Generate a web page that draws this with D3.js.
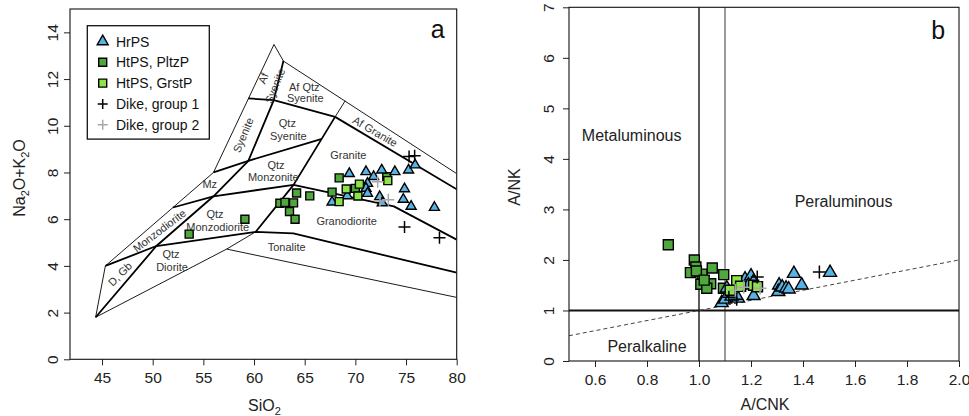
<!DOCTYPE html>
<html>
<head>
<meta charset="utf-8">
<script src="https://cdn.jsdelivr.net/npm/d3@7"></script>
<style>
  body { margin: 0; background: #fff; }
  svg { display: block; }
</style>
</head>
<body>
<svg id="chart" width="969" height="416"></svg>
<script>
// ---- series ----
const seriesNames = ["HrPS", "HtPS, PltzP", "HtPS, GrstP", "Dike, group 1", "Dike, group 2"];

// Panel a: SiO2 (wt%) vs Na2O+K2O (wt%)
const tasHrPS = [[69.4,7.95],[71.05,8.03],[72.6,8.1],[73.9,8.03],[71.8,7.82],[75.25,8.1],[75.9,8.32],[71.2,7.53],[71.05,7.32],[71.2,7.1],[69.2,7.0],[67.7,6.73],[72.4,6.96],[72.65,6.7],[74.85,7.3],[74.73,6.85],[75.5,6.55],[77.8,6.5]];
const tasPltzP = [[53.6,5.36],[59.1,6.0],[62.55,6.68],[63.05,6.72],[63.9,6.7],[63.5,6.33],[64.05,6.0],[64.2,7.12],[65.5,7.0],[67.7,7.16],[68.4,7.77],[70.0,7.32],[73.1,7.82]];
const tasGrstP = [[69.1,7.29],[70.4,7.5],[70.25,6.99],[68.4,6.75],[73.2,7.65]];
const tasDike1 = [[75.3,8.68],[75.85,8.72],[74.85,5.67],[78.3,5.2]];
const tasDike2 = [[72.2,7.6],[72.43,6.78],[73.25,6.83]];

// Panel b: A/CNK vs A/NK
const shandHrPS = [[1.107,1.44],[1.087,1.15],[1.10,1.22],[1.15,1.24],[1.177,1.62],[1.20,1.68],[1.21,1.29],[1.21,1.57],[1.308,1.50],[1.305,1.37],[1.32,1.46],[1.335,1.44],[1.345,1.42],[1.365,1.73],[1.395,1.50],[1.504,1.75],[1.19,1.50],[1.125,1.28]];
const shandPltzP = [[0.882,2.30],[0.982,2.0],[0.988,1.86],[0.967,1.75],[1.012,1.72],[1.051,1.84],[1.095,1.71],[1.007,1.52],[1.045,1.53],[1.03,1.44],[1.094,1.44],[0.99,1.78],[1.02,1.6]];
const shandGrstP = [[1.145,1.59],[1.21,1.50],[1.225,1.47],[1.16,1.48],[1.12,1.40]];
const shandDike1 = [[1.463,1.76],[1.224,1.66],[1.145,1.22],[1.115,1.26]];
const shandDike2 = [[1.14,1.40],[1.172,1.46],[1.235,1.44]];

// ---- ticks ----
const tasTicksX = [45, 50, 55, 60, 65, 70, 75, 80];
const tasTicksY = [0, 2, 4, 6, 8, 10, 12, 14];
const shandTicksX = [0.6, 0.8, 1.0, 1.2, 1.4, 1.6, 1.8, 2.0];
const shandTicksY = [0, 1, 2, 3, 4, 5, 6, 7];

// ---- plutonic TAS field boundaries (SiO2, Na2O+K2O) ----
const tasOutline = [[44.37,1.8],[45.33,4.0],[52.0,6.5],[56.0,8.0],[61.97,13.48],[62.9,12.77],[80,7.95]];
const tasBase = [[44.37,1.8],[57.3,4.72],[60.17,5.46]];
const tasTonaliteBase = [[57.3,4.72],[80,2.65]];
const tasAfEdge = [[68.0,10.38],[69.0,11.07]];
const tasQuartzLine = [[44.37,1.8],[50.36,4.85],[56.0,6.98],[59.44,8.5],[61.95,11.1],[62.9,12.77]];
const tasDioriteTop = [[45.33,4.0],[50.36,4.85],[60.17,5.46],[63.88,5.39],[80,3.71]];
const tasMonzodioriteTop = [[52.0,6.5],[56.0,6.98],[63.9,7.47],[73.8,6.55],[80,5.12]];
const tasMonzoniteTop = [[56.0,8.0],[59.44,8.5],[66.7,9.44]];
const tasSyeniteTop = [[59.44,11.17],[61.95,11.1],[68.0,10.38]];
const tasGraniteEdge = [[60.17,5.46],[63.9,7.47],[68.0,10.38]];
const tasAfGraniteBase = [[68.0,10.38],[80,7.28]];

const tasFieldLabels = [
  ["Af", 60.92, 12.03, -68], ["Syenite", 62.07, 11.71, -68],
  ["Af Qtz", 64.96, 11.67, 0], ["Syenite", 65.06, 11.17, 0],
  ["Qtz", 63.29, 10.1, 0], ["Syenite", 63.38, 9.56, 0],
  ["Syenite", 58.94, 9.6, -67],
  ["Af Granite", 71.94, 9.75, 30],
  ["Granite", 69.3, 8.75, 0],
  ["Qtz", 62.17, 8.32, 0], ["Monzonite", 61.9, 7.79, 0],
  ["Mz", 55.63, 7.48, 0],
  ["Monzodiorite", 50.67, 5.51, -37],
  ["Qtz", 56.15, 6.2, 0], ["Monzodiorite", 56.42, 5.68, 0],
  ["D, Gb", 46.78, 3.65, -45],
  ["Qtz", 51.81, 4.49, 0], ["Diorite", 51.91, 3.96, 0],
  ["Tonalite", 63.22, 4.82, 0],
  ["Granodiorite", 69.14, 5.92, 0]
];

const shandFieldLabels = [["Metaluminous", 0.741, 4.46], ["Peraluminous", 1.556, 3.15], ["Peralkaline", 0.80, 0.28]];

// ---- drawing ----
const FONT = '"Liberation Sans", Arial, Helvetica, sans-serif';
const svg = d3.select("#chart").attr("font-family", FONT);

function triangle(w) { const h = w * Math.sqrt(3) / 2; return `M0,${-2*h/3}L${w/2},${h/3}L${-w/2},${h/3}Z`; }
function square(s) { const r = s / 2; return `M${-r},${-r}H${r}V${r}H${-r}Z`; }
function plus(s) { const r = s / 2; return `M${-r},0H${r}M0,${-r}V${r}`; }

const symbolStyles = [
  { shape: triangle, fill: "#58B3E4", stroke: "#000", sw: 1.4 },
  { shape: square,   fill: "#4FA73D", stroke: "#000", sw: 1.4 },
  { shape: square,   fill: "#8CE449", stroke: "#000", sw: 1.4 },
  { shape: plus,     fill: "none",    stroke: "#000", sw: 1.5 },
  { shape: plus,     fill: "none",    stroke: "#A8A8A8", sw: 1.5 }
];

function drawAxes(g, x, y, ticksX, ticksY, fmtX, fmtY, yLabelOffset) {
  const [x0, x1] = x.range(), [y0, y1] = y.range();
  const gx = g.append("g").attr("transform", `translate(0,${y0})`)
    .call(d3.axisBottom(x).tickValues(ticksX).tickSize(6).tickSizeOuter(0).tickPadding(7).tickFormat(fmtX));
  gx.select(".domain").remove();
  gx.selectAll("line").attr("stroke", "#222");
  gx.selectAll("text").attr("font-size", 15.5).attr("font-family", FONT).attr("fill", "#222");

  const gy = g.append("g").attr("transform", `translate(${x0},0)`)
    .call(d3.axisLeft(y).tickValues(ticksY).tickSize(6).tickSizeOuter(0).tickFormat(fmtY));
  gy.select(".domain").remove();
  gy.selectAll("line").attr("stroke", "#222");
  gy.selectAll("text").attr("x", 0).attr("dy", null)
    .attr("transform", `translate(${-yLabelOffset},0) rotate(-90)`)
    .attr("text-anchor", "middle")
    .attr("font-size", 15.5).attr("font-family", FONT).attr("fill", "#222");

  g.append("rect").attr("x", x0).attr("y", y1).attr("width", x1 - x0).attr("height", y0 - y1)
    .attr("fill", "none").attr("stroke", "#111").attr("stroke-width", 1.1);
}

function drawPoints(g, x, y, sets, sizes) {
  const order = [1, 0, 2, 3, 4];
  order.forEach(i => {
    const st = symbolStyles[i];
    g.append("g").selectAll("path").data(sets[i]).join("path")
      .attr("transform", d => `translate(${x(d[0])},${y(d[1])})`)
      .attr("d", st.shape(sizes[i]))
      .attr("fill", st.fill).attr("stroke", st.stroke).attr("stroke-width", st.sw)
      .attr("stroke-linejoin", "miter");
  });
}

// ===== Panel a: TAS =====
const ax = d3.scaleLinear().domain([41.84, 80]).range([70, 456.7]);
const ay = d3.scaleLinear().domain([0, 15]).range([359.3, 9]);
const pa = svg.append("g");

svg.append("clipPath").attr("id", "clipA").append("rect")
  .attr("x", 70).attr("y", 9).attr("width", 386.7).attr("height", 350.3);

const line = (x, y) => d3.line().x(d => x(d[0])).y(d => y(d[1]));
const fields = pa.append("g").attr("clip-path", "url(#clipA)").attr("fill", "none").attr("stroke", "#000");
[tasOutline, tasBase, tasTonaliteBase, tasAfEdge].forEach(p =>
  fields.append("path").attr("d", line(ax, ay)(p)).attr("stroke-width", 0.9));
[tasQuartzLine, tasDioriteTop, tasMonzodioriteTop, tasMonzoniteTop, tasSyeniteTop, tasGraniteEdge, tasAfGraniteBase].forEach(p =>
  fields.append("path").attr("d", line(ax, ay)(p)).attr("stroke-width", 1.8).attr("stroke-linejoin", "round"));

pa.append("g").selectAll("text").data(tasFieldLabels).join("text")
  .attr("transform", d => `translate(${ax(d[1])},${ay(d[2])}) rotate(${d[3]})`)
  .attr("text-anchor", "middle").attr("dy", "0.35em")
  .attr("font-size", 11).attr("fill", "#333").text(d => d[0]);

drawAxes(pa, ax, ay, tasTicksX, tasTicksY, d3.format("d"), d3.format("d"), 12);
drawPoints(pa, ax, ay, [tasHrPS, tasPltzP, tasGrstP, tasDike1, tasDike2], [10, 8, 8, 12, 12]);

// axis titles
const xt = pa.append("text").attr("x", 264.5).attr("y", 411).attr("text-anchor", "middle")
  .attr("font-size", 16).attr("fill", "#222");
xt.append("tspan").text("SiO");
xt.append("tspan").attr("font-size", 11).attr("dy", 4).text("2");

const yt = pa.append("text").attr("transform", "translate(25,178) rotate(-90)").attr("text-anchor", "middle")
  .attr("font-size", 16).attr("fill", "#222");
yt.append("tspan").text("Na");
yt.append("tspan").attr("font-size", 11).attr("dy", 4).text("2");
yt.append("tspan").attr("dy", -4).text("O+K");
yt.append("tspan").attr("font-size", 11).attr("dy", 4).text("2");
yt.append("tspan").attr("dy", -4).text("O");

pa.append("text").attr("x", 437.7).attr("y", 38.3).attr("text-anchor", "middle")
  .attr("font-size", 25).attr("fill", "#111").text("a");

// legend
const lg = pa.append("g");
lg.append("rect").attr("x", 87.3).attr("y", 25.7).attr("width", 122).attr("height", 113.4)
  .attr("fill", "#fff").attr("stroke", "#111").attr("stroke-width", 1.3);
const legendSizes = [11, 8, 8, 10, 10];
seriesNames.forEach((name, i) => {
  const yy = 41.5 + i * 20.8, st = symbolStyles[i];
  lg.append("path").attr("transform", `translate(102.7,${yy})`).attr("d", st.shape(legendSizes[i]))
    .attr("fill", st.fill).attr("stroke", st.stroke).attr("stroke-width", st.sw);
  lg.append("text").attr("x", 116).attr("y", yy + 5).attr("font-size", 14).attr("fill", "#111").text(name);
});

// ===== Panel b: Shand index =====
const bx = d3.scaleLinear().domain([0.5, 2.0]).range([569, 959]);
const by = d3.scaleLinear().domain([0, 7]).range([361, 7.3]);
const pb = svg.append("g");

pb.append("line").attr("x1", bx(1.0)).attr("x2", bx(1.0)).attr("y1", by(0)).attr("y2", by(7))
  .attr("stroke", "#333").attr("stroke-width", 1.6);
pb.append("line").attr("x1", bx(1.1)).attr("x2", bx(1.1)).attr("y1", by(0)).attr("y2", by(7))
  .attr("stroke", "#9a9a9a").attr("stroke-width", 2);
pb.append("line").attr("x1", bx(0.5)).attr("x2", bx(2.0)).attr("y1", by(1)).attr("y2", by(1))
  .attr("stroke", "#111").attr("stroke-width", 2);
pb.append("line").attr("x1", bx(0.5)).attr("x2", bx(2.0)).attr("y1", by(0.5)).attr("y2", by(2.0))
  .attr("stroke", "#444").attr("stroke-width", 1).attr("stroke-dasharray", "4,3");

pb.append("g").selectAll("text").data(shandFieldLabels).join("text")
  .attr("x", d => bx(d[1])).attr("y", d => by(d[2])).attr("dy", "0.35em")
  .attr("text-anchor", "middle").attr("font-size", 16).attr("fill", "#222").text(d => d[0]);

drawAxes(pb, bx, by, shandTicksX, shandTicksY, d3.format(".1f"), d3.format("d"), 15);
drawPoints(pb, bx, by, [shandHrPS, shandPltzP, shandGrstP, shandDike1, shandDike2], [13, 10, 10, 13, 13]);

pb.append("text").attr("x", 765).attr("y", 410).attr("text-anchor", "middle")
  .attr("font-size", 16).attr("fill", "#222").text("A/CNK");
pb.append("text").attr("transform", "translate(520,187) rotate(-90)").attr("text-anchor", "middle")
  .attr("font-size", 16).attr("fill", "#222").text("A/NK");
pb.append("text").attr("x", 938.3).attr("y", 39).attr("text-anchor", "middle")
  .attr("font-size", 25).attr("fill", "#111").text("b");
</script>
</body>
</html>
